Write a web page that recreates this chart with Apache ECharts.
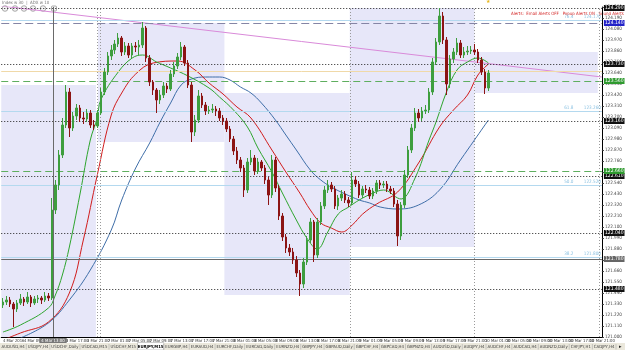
<!DOCTYPE html>
<html><head><meta charset="utf-8">
<script src="https://cdn.jsdelivr.net/npm/echarts@6/dist/echarts.min.js"></script>
<style>html,body{margin:0;padding:0;background:#fff}#c{width:625px;height:350px}</style>
</head><body><div id="c"></div>
<script>
// ---------- data ----------
const N_CATS = 172;
const timeLabels = ["4 Mar 2016","4 Mar 09:00","4 Mar 13:00","4 Mar 17:00","4 Mar 21:00","7 Mar 01:00","7 Mar 05:00","7 Mar 09:00","7 Mar 13:00","7 Mar 17:00","7 Mar 21:00","8 Mar 01:00","8 Mar 05:00","8 Mar 09:00","8 Mar 13:00","8 Mar 17:00","8 Mar 21:00","9 Mar 01:00","9 Mar 05:00","9 Mar 09:00","9 Mar 13:00","9 Mar 17:00","9 Mar 21:00","10 Mar 01:00","10 Mar 05:00","10 Mar 09:00","10 Mar 13:00","10 Mar 17:00","10 Mar 21:00"];
const opens = [121.32,121.35,121.37,121.33,121.28,121.34,121.38,121.35,121.40,121.34,
121.38,121.39,121.37,121.41,121.39,122.27,122.52,122.82,123.12,123.45,
123.09,123.21,123.29,123.19,123.18,123.24,123.12,123.11,123.24,123.45,
123.65,123.81,123.87,123.93,123.99,123.85,123.91,123.82,123.91,123.90,
123.92,124.09,123.79,123.55,123.47,123.37,123.42,123.51,123.48,123.63,
123.71,123.80,123.90,123.74,123.52,123.05,123.17,123.41,123.32,123.26,
123.27,123.28,123.26,123.19,123.16,123.08,122.98,122.86,122.77,122.69,
122.47,122.75,122.79,122.66,122.75,122.69,122.57,122.42,122.77,122.49,
122.21,122.00,121.89,121.85,121.77,121.64,121.53,121.75,121.97,122.15,
121.82,122.15,122.31,122.47,122.52,122.48,122.31,122.39,122.43,122.37,
122.34,122.57,122.53,122.42,122.48,122.47,122.41,122.46,122.54,122.52,
122.53,122.48,122.46,122.33,122.01,122.32,122.62,122.87,123.09,123.24,
123.19,123.26,123.27,123.45,123.75,123.95,124.21,123.97,123.53,123.78,
123.85,123.94,123.82,123.85,123.86,123.87,123.85,123.77,123.65,123.49];
const closes = [121.35,121.37,121.33,121.28,121.34,121.38,121.35,121.40,121.34,121.38,
121.39,121.37,121.41,121.39,122.27,122.52,122.82,123.12,123.45,123.09,
123.21,123.29,123.19,123.18,123.24,123.12,123.11,123.24,123.45,123.65,
123.81,123.87,123.93,123.99,123.85,123.91,123.82,123.91,123.90,123.92,
124.09,123.79,123.55,123.47,123.37,123.42,123.51,123.48,123.63,123.71,
123.80,123.90,123.74,123.52,123.05,123.17,123.41,123.32,123.26,123.27,
123.28,123.26,123.19,123.16,123.08,122.98,122.86,122.77,122.69,122.47,
122.75,122.79,122.66,122.75,122.69,122.57,122.42,122.77,122.49,122.21,
122.00,121.89,121.85,121.77,121.64,121.53,121.75,121.97,122.15,121.82,
122.15,122.31,122.47,122.52,122.48,122.31,122.39,122.43,122.37,122.34,
122.57,122.53,122.42,122.48,122.47,122.41,122.46,122.54,122.52,122.53,
122.48,122.46,122.33,122.01,122.32,122.62,122.87,123.09,123.24,123.19,
123.26,123.27,123.45,123.75,123.95,124.21,123.97,123.53,123.78,123.85,
123.94,123.82,123.85,123.86,123.87,123.85,123.77,123.65,123.49,123.64];
const lows = [121.29,121.32,121.30,121.10,121.25,121.32,121.31,121.33,121.30,121.32,
121.34,121.33,121.35,121.36,121.37,122.23,122.47,122.79,123.09,123.00,
123.06,123.17,123.15,123.13,123.15,123.09,123.07,123.09,123.22,123.42,
123.62,123.77,123.83,123.90,123.81,123.82,123.79,123.79,123.85,123.82,
123.89,123.75,123.51,123.42,123.24,123.33,123.39,123.44,123.46,123.60,
123.68,123.77,123.71,123.49,122.95,123.01,123.14,123.29,123.22,123.23,
123.24,123.21,123.16,123.12,123.05,122.95,122.82,122.73,122.65,122.40,
122.44,122.72,122.62,122.63,122.66,122.53,122.32,122.39,122.45,122.17,
121.96,121.84,121.81,121.73,121.60,121.41,121.49,121.72,121.94,121.75,
121.79,122.12,122.28,122.44,122.45,122.28,122.27,122.36,122.34,122.30,
122.32,122.50,122.39,122.39,122.44,122.38,122.38,122.43,122.48,122.49,
122.45,122.43,122.30,121.91,121.97,122.29,122.59,122.84,123.06,123.15,
123.16,123.23,123.24,123.42,123.72,123.92,123.93,123.42,123.49,123.74,
123.82,123.79,123.79,123.82,123.83,123.82,123.74,123.62,123.43,123.46];
const highs = [121.39,121.41,121.40,121.35,121.37,121.43,121.40,121.45,121.42,121.41,
121.42,121.41,121.45,121.44,122.39,122.57,122.87,123.19,123.52,123.49,
123.25,123.33,123.32,123.25,123.28,123.27,123.17,123.27,123.49,123.69,
123.85,123.92,123.97,124.04,124.01,123.95,123.94,123.94,123.95,123.97,
124.15,124.11,123.82,123.57,123.49,123.47,123.55,123.54,123.67,123.75,
123.84,123.95,123.92,123.77,123.55,123.22,123.47,123.44,123.35,123.31,
123.33,123.31,123.29,123.22,123.19,123.11,123.01,122.90,122.80,122.72,
122.79,122.87,122.82,122.79,122.77,122.72,122.60,122.82,122.80,122.52,
122.24,122.03,121.93,121.89,121.81,121.67,121.79,122.01,122.19,122.17,
122.19,122.35,122.51,122.57,122.55,122.51,122.42,122.47,122.46,122.40,
122.65,122.61,122.56,122.51,122.52,122.50,122.49,122.57,122.57,122.56,
122.56,122.51,122.49,122.37,122.35,122.67,122.91,123.13,123.29,123.28,
123.30,123.32,123.49,123.79,123.99,124.29,124.25,124.00,123.82,123.89,
123.99,123.97,123.90,123.91,123.91,123.93,123.88,123.80,123.68,123.67];
// moving averages: [bar index, price]
const maFast = [[0,121.05],[5,121.12],[13,121.29],[15,121.42],[17,121.62],[19,121.90],[22,122.42],[25,122.97],[27,123.19],[28,123.37],[33,123.65],[37,123.79],[40,123.82],[44,123.75],[48,123.69],[53,123.61],[59,123.49],[62,123.40],[66,123.27],[70,123.10],[73,122.89],[77,122.65],[80,122.44],[84,122.17],[87,121.99],[90,121.88],[93,122.05],[96,122.23],[99,122.30],[102,122.37],[106,122.44],[109,122.47],[113,122.39],[114,122.38],[118,122.59],[122,122.97],[124,123.15],[127,123.45],[130,123.67],[133,123.75],[136,123.79],[139,123.74]];
const maMid = [[0,120.97],[5,121.04],[13,121.15],[19,121.44],[23,121.97],[27,122.62],[31,123.22],[34,123.44],[38,123.63],[43,123.74],[50,123.76],[55,123.67],[59,123.54],[63,123.43],[67,123.30],[71,123.19],[77,122.87],[81,122.65],[85,122.44],[88,122.27],[91,122.14],[94,122.09],[97,122.05],[100,122.12],[103,122.23],[107,122.33],[113,122.45],[119,122.74],[125,123.10],[129,123.27],[133,123.42],[136,123.62],[139,123.73]];
const maSlow = [[5,120.99],[13,121.14],[19,121.37],[25,121.67],[31,122.07],[34,122.37],[38,122.69],[42,122.94],[45,123.15],[48,123.34],[51,123.52],[54,123.58],[58,123.60],[62,123.60],[65,123.57],[68,123.50],[71,123.44],[74,123.34],[78,123.17],[81,123.02],[84,122.87],[88,122.67],[91,122.57],[94,122.50],[98,122.43],[102,122.37],[105,122.34],[108,122.30],[113,122.28],[119,122.32],[125,122.47],[131,122.77],[135,122.97],[139,123.17]];
const trendLine = [[0,124.31],[172,123.60]];
const dottedLevels = [124.29,123.73,123.16,122.61,122.04,121.48];
const greenDashedLevels = [123.56,122.66];
const purpleDashedLevel = 124.14;
const bidLevel = 123.66;
const fibLevels = [["76.4",124.17],["61.8",123.26],["50.0",122.52],["38.2",121.80]];
const crossX = 14.83, crossPrice = 121.78, crossTime = "4 Mar 13:00";
// session boxes: [x0, x1, top price, bottom price]
const boxes = [[0,27.1,123.52,121.00],[27.7,63.9,124.14,122.95],[63.9,99.8,123.44,121.42],[99.8,135.5,124.29,121.90],[135.5,170.8,123.85,123.44]];
const separators = [27.6,28.4,99.8,135.5,171.1];
const tabs = ["AUDUSD,H4","USDJPY,H4","USDCHF,Daily","USDCAD,M15","USDCHF,M15","EURJPY,M15","EURGBP,H4","EURAUD,H4","EURCHF,Daily","EURCAD,Daily","EURNZD,H4","GBPJPY,H4","GBPAUD,Daily","GBPCHF,H4","GBPCAD,H4","GBPNZD,H4","AUDUSD,Daily","AUDJPY,H4","AUDCHF,H4","AUDCAD,H4","AUDNZD,Daily","CHFJPY,H1","CADJPY,H4"];
const activeTab = "EURJPY,M15";
const headerText = "Index w 30  |  ADX w 10";
const alertText = "Alerts:  Email Alerts OFF   Popup Alerts ON   Sound Alerts ON";

// ---------- chart ----------
const chart = echarts.init(document.getElementById('c'));
const categories = Array.from({length: N_CATS}, (_, i) => String(i));
const candles = opens.map((o, i) => [o, closes[i], lows[i], highs[i]]);
const FONT = '"Liberation Sans Narrow", "DejaVu Sans Condensed", "Liberation Sans", sans-serif';
const tagLabel = (txt, bg) => ({show: true, position: 'end', formatter: txt, backgroundColor: bg, color: '#fff', fontSize: 5, fontFamily: FONT, padding: [1, 1, 0, 1], distance: 2});

const hLines = [];
dottedLevels.forEach(p => hLines.push({yAxis: p, lineStyle: {color: '#222', type: [1, 2], width: 1}, label: tagLabel(p.toFixed(3), '#111')}));
greenDashedLevels.forEach(p => hLines.push({yAxis: p, lineStyle: {color: '#5fae5f', type: [7, 4], width: 1}, label: tagLabel(p.toFixed(3), '#2f9a2f')}));
hLines.push({yAxis: purpleDashedLevel, lineStyle: {color: '#8585a5', type: [8, 4], width: 1.2}, label: tagLabel(purpleDashedLevel.toFixed(3), '#2323c8')});
hLines.push({yAxis: bidLevel, lineStyle: {color: '#f0d9a8', type: 'solid', width: 1}, label: {show: false}});
fibLevels.forEach(([n, p]) => hLines.push({yAxis: p, lineStyle: {color: '#b4d9ef', type: 'solid', width: 1}, label: {show: true, position: 'insideEndTop', formatter: n + '        ' + p.toFixed(3), color: '#8cc2e2', fontSize: 4.6, fontFamily: FONT, distance: 1}}));
hLines.push({yAxis: crossPrice, lineStyle: {color: '#6a6a6a', type: 'solid', width: 1}, label: tagLabel(crossPrice.toFixed(3), '#666')});

const vLines = separators.map(v => ({xAxis: v, lineStyle: {color: '#9a9a9a', type: [1, 2], width: 1}, label: {show: false}}));
vLines.push({xAxis: crossX, lineStyle: {color: '#6a6a6a', type: 'solid', width: 1}, label: {show: true, position: 'start', formatter: crossTime, backgroundColor: '#777', color: '#fff', fontSize: 4.3, fontFamily: FONT, padding: [1, 2, 0, 2], distance: 1}});

// tab bar graphics (positions from measured text widths)
const mctx = document.createElement('canvas').getContext('2d');
const TAB_FS = 4.3;
mctx.font = TAB_FS + 'px ' + FONT;
const tw = tabs.map(t => mctx.measureText(t).width);
const totalW = 616;
const pad = (totalW - tw.reduce((a, b) => a + b, 0)) / tabs.length;
const tabG = [{type: 'rect', shape: {x: 0, y: 343, width: 625, height: 7}, style: {fill: '#ebe8dc'}, silent: true}];
let tx = 0;
tabs.forEach((t, i) => {
  const w = tw[i] + pad;
  const act = t === activeTab;
  if (act) tabG.push({type: 'rect', shape: {x: tx, y: 342.5, width: w, height: 7.5}, style: {fill: '#fff', stroke: '#999', lineWidth: 0.5}});
  tabG.push({type: 'text', x: tx + w / 2, y: 344.6, style: {text: t, fontSize: TAB_FS, fontFamily: FONT, fill: act ? '#000' : '#444', fontWeight: act ? 'bold' : 'normal', align: 'center'}});
  tabG.push({type: 'line', shape: {x1: tx + w, y1: 344, x2: tx + w, y2: 349.5}, style: {stroke: '#a8a8a8', lineWidth: 0.6}});
  tx += w;
});
tabG.push({type: 'text', x: 619, y: 344, style: {text: '▸', fontSize: 5, fill: '#222'}});
// header
const headG = [
  {type: 'text', x: 2, y: 0.5, style: {text: headerText, fontSize: 4.4, fontFamily: FONT, fill: '#777'}},
  {type: 'text', x: 511, y: 12, style: {text: alertText, fontSize: 4.4, fontFamily: FONT, fill: '#d42a2a'}},
  {type: 'text', x: 486, y: -1, style: {text: '★', fontSize: 5, fill: '#e8b820'}}
];
[5, 15, 24, 33, 43].forEach(cx => headG.push({type: 'circle', shape: {cx: cx, cy: 8.5, r: 2.8}, style: {fill: '#f4f4f4', stroke: '#8a8a8a', lineWidth: 0.7}}));
headG.push({type: 'rect', shape: {x: 51.5, y: 6, width: 5, height: 5, r: 1}, style: {fill: '#f4f4f4', stroke: '#8a8a8a', lineWidth: 0.7}});

chart.setOption({
  animation: false,
  backgroundColor: '#fff',
  grid: {left: 0, right: 22, top: 7, bottom: 13, containLabel: false},
  xAxis: [
    {type: 'category', data: categories, boundaryGap: true,
     axisLine: {show: true, onZero: false, lineStyle: {color: '#000', width: 1}}, axisTick: {show: false},
     axisLabel: {interval: 0, fontSize: 4.2, fontFamily: FONT, color: '#333', margin: 2, align: 'left',
       formatter: (v, idx) => (idx % 6 === 0 && timeLabels[idx / 6]) ? timeLabels[idx / 6] : ''},
     splitLine: {show: false}},
    {type: 'value', min: 0, max: N_CATS, show: false, axisLine: {onZero: false}, splitLine: {show: false}}
  ],
  yAxis: [{type: 'value', position: 'right', min: 121.00, max: 124.30, interval: 0.11,
    axisLine: {show: true, onZero: false, lineStyle: {color: '#000', width: 1}},
    axisTick: {show: true, length: 2, lineStyle: {color: '#333'}},
    axisLabel: {fontSize: 4.6, fontFamily: FONT, color: '#444', margin: 3, formatter: v => v.toFixed(3)},
    splitLine: {show: false}}],
  series: [
    {type: 'line', xAxisIndex: 1, yAxisIndex: 0, data: [], z: 1, silent: true,
     markArea: {silent: true, itemStyle: {color: '#e7e7f9'},
       data: boxes.map(b => [{coord: [b[0], b[2]]}, {coord: [b[1], b[3]]}])}},
    {type: 'line', xAxisIndex: 1, yAxisIndex: 0, data: [], z: 2, silent: true,
     markLine: {silent: true, symbol: ['none', 'none'], data: hLines.concat(vLines)}},
    {type: 'line', xAxisIndex: 1, yAxisIndex: 0, data: trendLine, z: 3, symbol: 'none', silent: true,
     lineStyle: {color: '#d98ad9', width: 1}},
    {type: 'line', data: maSlow, symbol: 'none', smooth: 0.4, z: 4, lineStyle: {color: '#3f6ea8', width: 1}},
    {type: 'line', data: maMid, symbol: 'none', smooth: 0.4, z: 4, lineStyle: {color: '#d01c1c', width: 1}},
    {type: 'line', data: maFast, symbol: 'none', smooth: 0.4, z: 4, lineStyle: {color: '#2ea52e', width: 1}},
    {type: 'candlestick', data: candles, z: 5, barWidth: 2,
     itemStyle: {color: '#3e9e3e', color0: '#8c1414', borderColor: '#3e9e3e', borderColor0: '#8c1414', borderWidth: 1}}
  ],
  graphic: tabG.concat(headG)
});
</script>
</body></html>
